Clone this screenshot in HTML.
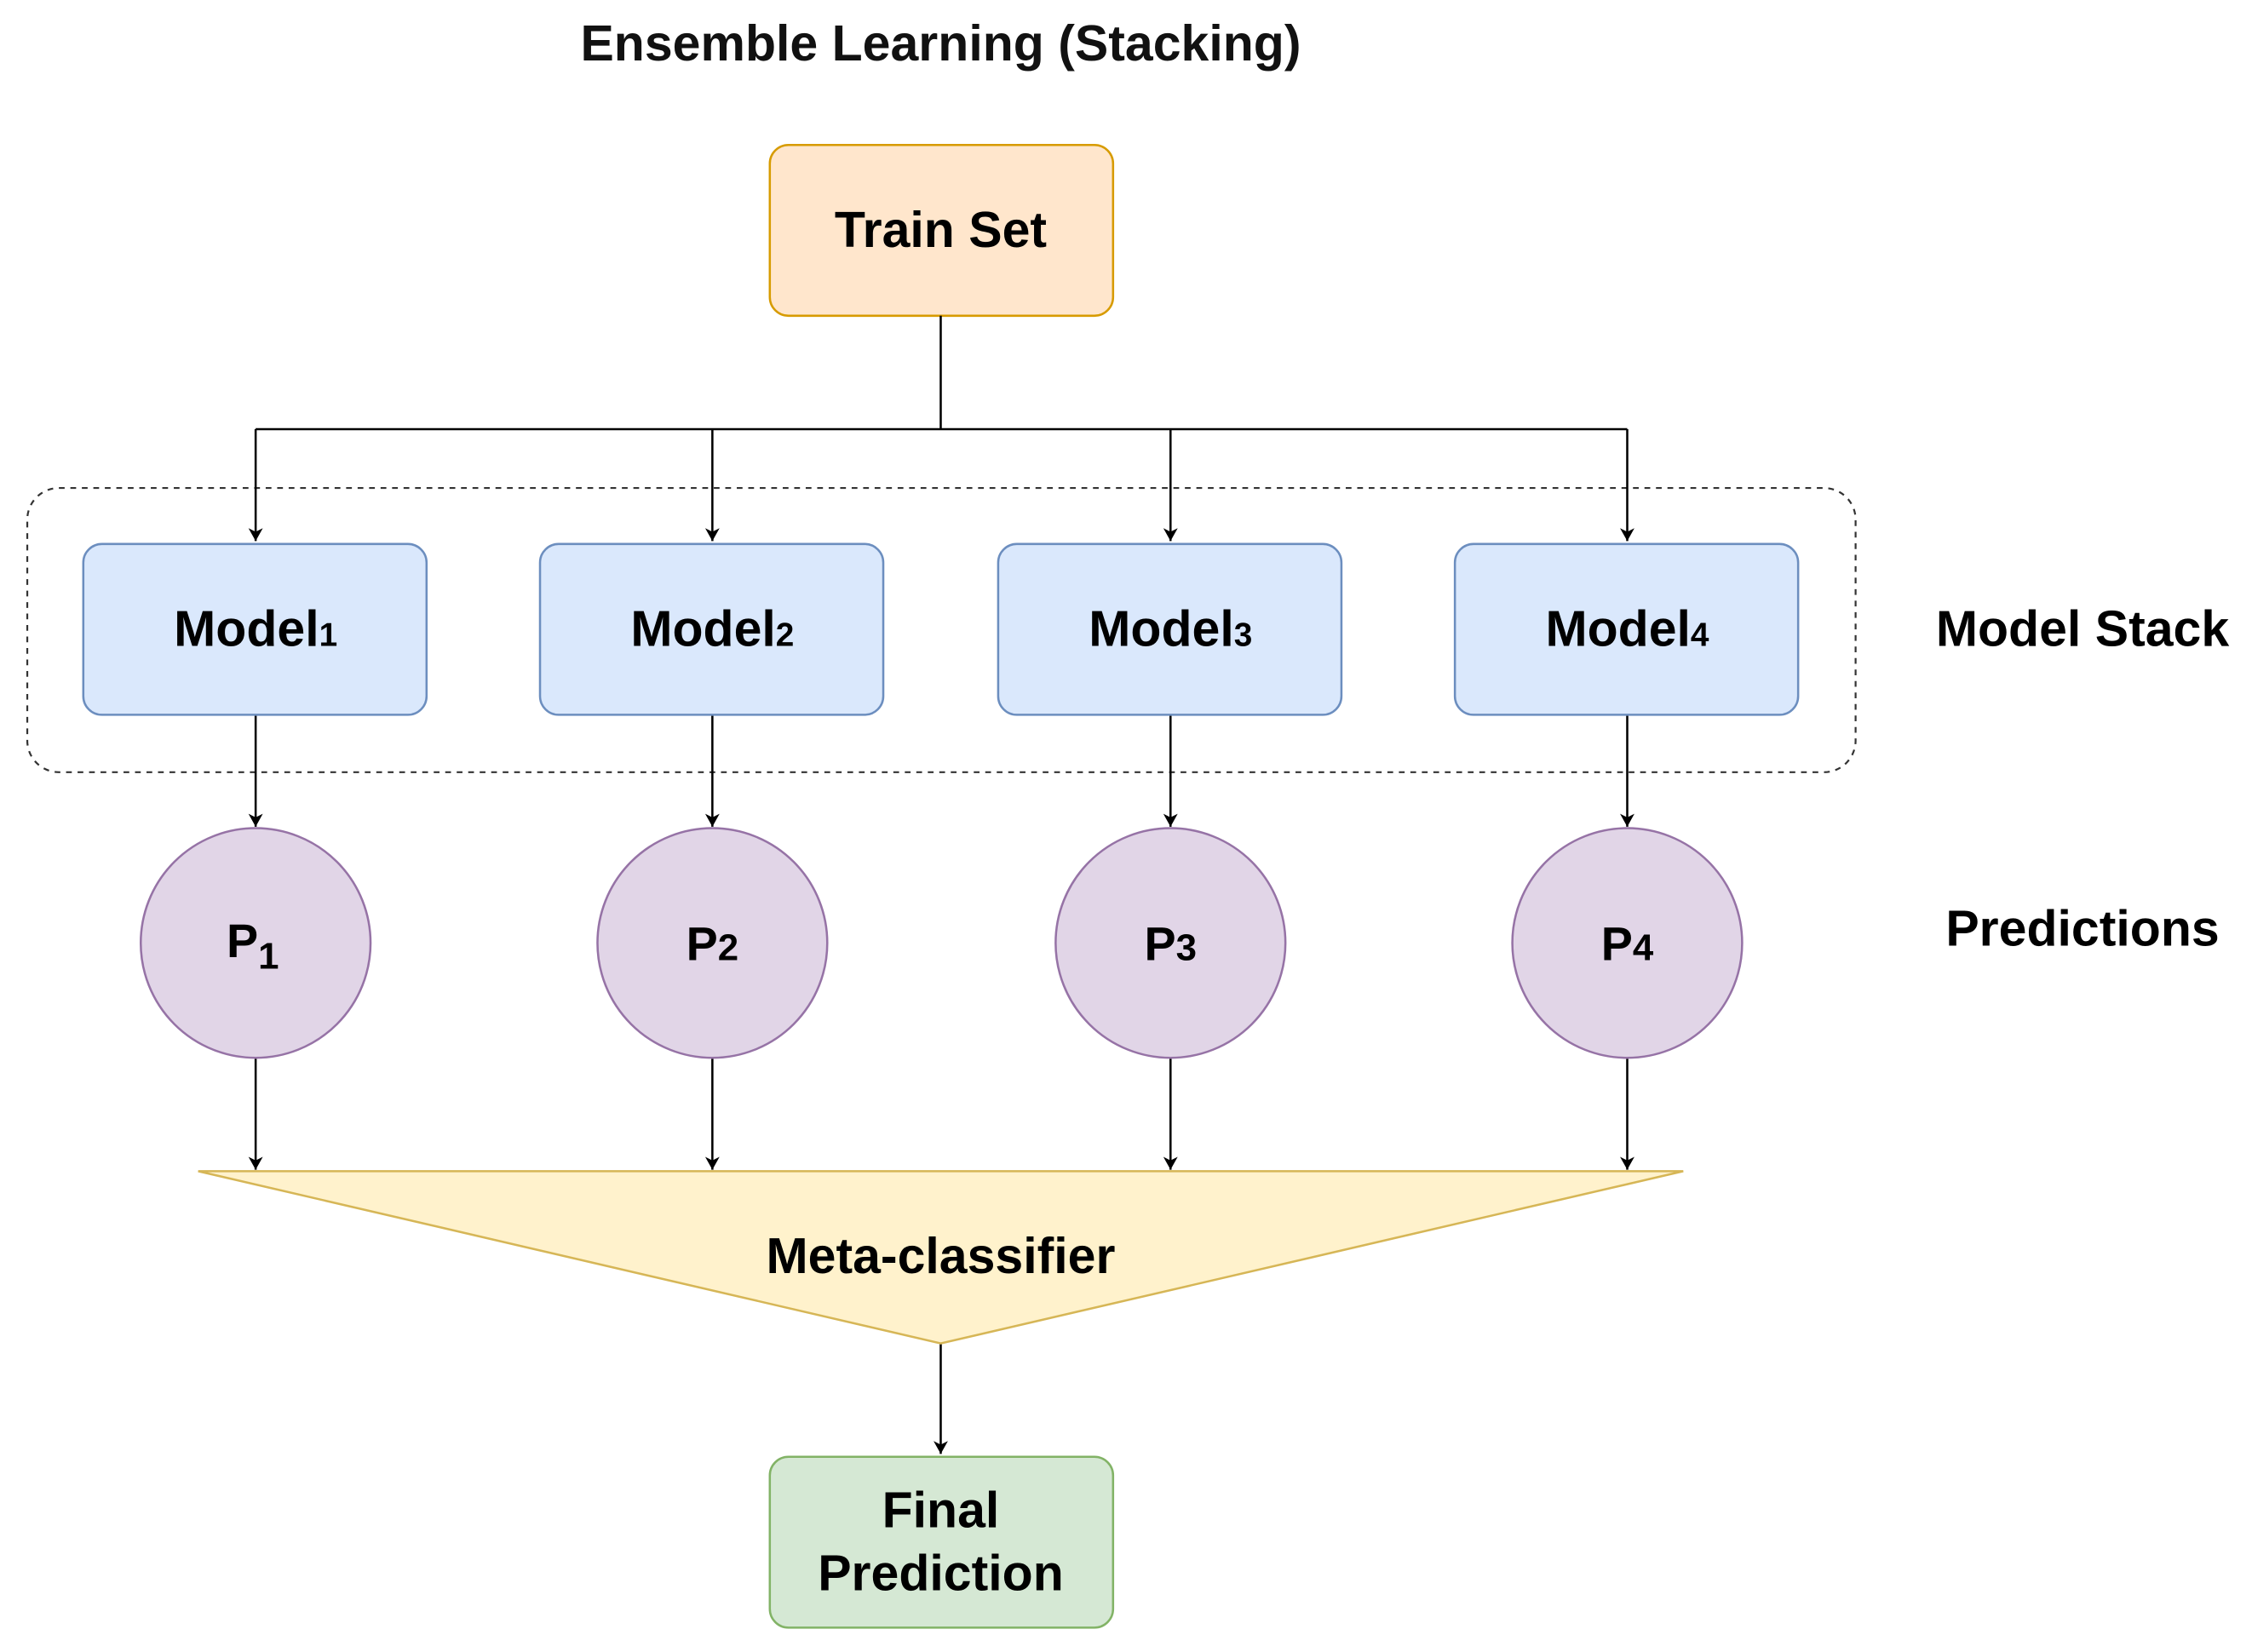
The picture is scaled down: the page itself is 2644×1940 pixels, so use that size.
<!DOCTYPE html>
<html><head><meta charset="utf-8"><style>html,body{margin:0;padding:0;background:#fff}svg{display:block}</style></head>
<body>
<svg width="2644" height="1940" viewBox="0 0 1568 1151" preserveAspectRatio="none" xmlns="http://www.w3.org/2000/svg" font-family="Liberation Sans, sans-serif" font-weight="bold">
<defs><marker id="a" markerWidth="12" markerHeight="12" refX="10" refY="6" orient="auto" markerUnits="userSpaceOnUse"><path d="M1,1 L10,6 L1,11 L3.5,6 Z" fill="#000"/></marker></defs>
<text x="655" y="42" font-size="35" text-anchor="middle" fill="#111">Ensemble Learning (Stacking)</text>
<rect x="536" y="101" width="239" height="119" rx="13" fill="#ffe6cc" stroke="#d79b00" stroke-width="1.5"/>
<text x="655" y="172" font-size="35" text-anchor="middle">Train Set</text>
<rect x="19" y="340" width="1273" height="198" rx="22" fill="none" stroke="#333" stroke-width="1.3" stroke-dasharray="4,4"/>
<g stroke="#000" stroke-width="1.5" fill="none">
<path d="M655 220 V299 M178 299 H1133"/>
<g marker-end="url(#a)">
<path d="M178 299 V377"/><path d="M496 299 V377"/><path d="M815 299 V377"/><path d="M1133 299 V377"/>
<path d="M178 498 V576"/><path d="M496 498 V576"/><path d="M815 498 V576"/><path d="M1133 498 V576"/>
<path d="M178 737 V815"/><path d="M496 737 V815"/><path d="M815 737 V815"/><path d="M1133 737 V815"/>
<path d="M655 936 V1013"/>
</g>
</g>
<g fill="#dae8fc" stroke="#6c8ebf" stroke-width="1.5">
<rect x="58" y="379" width="239" height="119" rx="13"/><rect x="376" y="379" width="239" height="119" rx="13"/><rect x="695" y="379" width="239" height="119" rx="13"/><rect x="1013" y="379" width="239" height="119" rx="13"/>
</g>
<g font-size="35" text-anchor="middle">
<text x="178" y="450">Model<tspan font-size="23">1</tspan></text>
<text x="496" y="450">Model<tspan font-size="23">2</tspan></text>
<text x="815" y="450">Model<tspan font-size="23">3</tspan></text>
<text x="1133" y="450">Model<tspan font-size="23">4</tspan></text>
</g>
<g fill="#e1d5e7" stroke="#9673a6" stroke-width="1.5">
<circle cx="178" cy="657" r="80"/><circle cx="496" cy="657" r="80"/><circle cx="815" cy="657" r="80"/><circle cx="1133" cy="657" r="80"/>
</g>
<g font-size="33" text-anchor="middle">
<text x="176" y="667">P<tspan font-size="26" dy="8">1</tspan></text>
<text x="496" y="669">P<tspan font-size="26">2</tspan></text>
<text x="815" y="669">P<tspan font-size="26">3</tspan></text>
<text x="1133" y="669">P<tspan font-size="26">4</tspan></text>
</g>
<text x="1450" y="450" font-size="35" text-anchor="middle">Model Stack</text>
<text x="1450" y="659" font-size="35" text-anchor="middle">Predictions</text>
<polygon points="138,816 1172,816 655,936" fill="#fff2cc" stroke="#d6b656" stroke-width="1.5"/>
<text x="655" y="887" font-size="35" text-anchor="middle">Meta-classifier</text>
<rect x="536" y="1015" width="239" height="119" rx="13" fill="#d5e8d4" stroke="#82b366" stroke-width="1.5"/>
<text x="655" y="1064" font-size="35" text-anchor="middle">Final</text>
<text x="655" y="1108" font-size="35" text-anchor="middle">Prediction</text>
</svg>
</body></html>
